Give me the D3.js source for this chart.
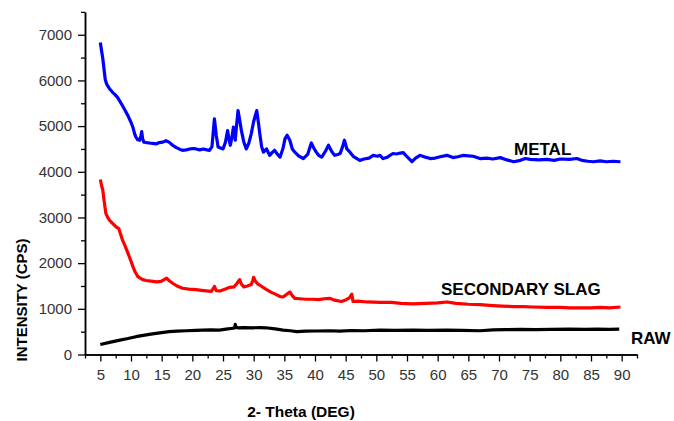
<!DOCTYPE html>
<html>
<head>
<meta charset="utf-8">
<script src="https://cdn.jsdelivr.net/npm/d3@7"></script>
<style>
  body { margin: 0; background: #fff; }
  svg { display: block; font-family: "Liberation Sans", Arial, sans-serif; }
</style>
</head>
<body>
<svg id="chart"></svg>
<script>
// 2-theta (deg), intensity (cps)
const metal = [
  [5.0, 6830], [5.2, 6650], [5.4, 6480], [5.6, 6250], [5.8, 6020], [6.0, 5930], [6.2, 5880],
  [6.6, 5800], [7.0, 5740], [7.4, 5690], [7.8, 5630], [8.2, 5540], [8.6, 5450], [9.0, 5350],
  [9.5, 5230], [10.0, 5080], [10.3, 4980], [10.6, 4830], [10.8, 4760], [11.1, 4700], [11.4, 4690],
  [11.6, 4780], [11.75, 4880], [11.9, 4720], [12.1, 4650], [12.5, 4640], [13.0, 4630], [13.5, 4620],
  [14.1, 4610], [14.6, 4640], [15.2, 4650], [15.7, 4680], [16.2, 4650], [16.8, 4580], [17.4, 4530],
  [18.0, 4490], [18.4, 4470], [19.0, 4480], [19.6, 4500], [20.2, 4510], [20.6, 4500], [21.2, 4480],
  [21.8, 4500], [22.4, 4480], [22.8, 4470], [23.2, 4550], [23.6, 5160], [23.9, 4800], [24.2, 4540],
  [24.6, 4520], [25.0, 4500], [25.4, 4650], [25.75, 4900], [26.0, 4700], [26.2, 4580], [26.45, 4750],
  [26.7, 4980], [27.0, 4690], [27.2, 5000], [27.45, 5340], [27.7, 5150], [28.0, 4900], [28.4, 4650],
  [28.8, 4500], [29.2, 4620], [29.6, 4830], [30.0, 5100], [30.2, 5200], [30.5, 5340], [30.8, 5050],
  [31.0, 4830], [31.3, 4550], [31.6, 4430], [32.1, 4500], [32.6, 4360], [33.0, 4420], [33.4, 4470],
  [33.9, 4380], [34.3, 4320], [34.8, 4520], [35.1, 4720], [35.45, 4800], [35.9, 4690], [36.3, 4500],
  [36.7, 4430], [37.4, 4340], [38.1, 4290], [38.8, 4380], [39.4, 4630], [39.8, 4520], [40.2, 4430],
  [40.6, 4360], [41.1, 4320], [41.7, 4450], [42.2, 4580], [42.7, 4450], [43.2, 4360], [43.7, 4380],
  [44.1, 4400], [44.5, 4550], [44.8, 4690], [45.2, 4500], [45.7, 4430], [46.3, 4330], [47.3, 4250],
  [48.0, 4280], [48.8, 4300], [49.5, 4360], [50.2, 4340], [50.6, 4360], [51.1, 4290], [51.8, 4320],
  [52.7, 4400], [53.3, 4390], [53.9, 4410], [54.4, 4420], [55.0, 4330], [55.8, 4220], [56.4, 4300],
  [57.1, 4360], [58.0, 4320], [58.8, 4290], [59.6, 4300], [60.4, 4330], [61.5, 4360], [62.5, 4310],
  [63.3, 4330], [64.2, 4360], [65.0, 4350], [65.8, 4340], [66.9, 4290], [68.0, 4300], [69.0, 4280],
  [70.2, 4310], [71.3, 4260], [72.4, 4220], [73.5, 4250], [74.3, 4290], [75.1, 4270], [76.5, 4260],
  [77.8, 4270], [79.0, 4250], [80.0, 4280], [81.5, 4270], [82.7, 4290], [83.5, 4250], [84.5, 4230],
  [85.4, 4220], [86.5, 4240], [87.5, 4220], [88.6, 4230], [89.8, 4220]
];

const slag = [
  [5.0, 3830], [5.2, 3700], [5.4, 3600], [5.6, 3380], [5.9, 3090], [6.2, 3000], [6.5, 2940],
  [6.9, 2880], [7.3, 2830], [7.7, 2780], [8.0, 2760], [8.3, 2640], [8.6, 2510], [9.0, 2390],
  [9.5, 2220], [9.9, 2080], [10.3, 1930], [10.7, 1800], [11.1, 1710], [11.5, 1670], [11.9, 1640],
  [12.5, 1620], [13.0, 1610], [13.6, 1600], [14.2, 1590], [14.9, 1600], [15.4, 1640], [15.8, 1670],
  [16.3, 1610], [16.8, 1560], [17.5, 1500], [18.4, 1450], [19.4, 1430], [20.6, 1420], [21.8, 1400],
  [23.1, 1380], [23.4, 1440], [23.6, 1490], [23.9, 1400], [24.5, 1390], [25.3, 1430], [26.1, 1470],
  [26.8, 1480], [27.3, 1560], [27.7, 1640], [28.0, 1540], [28.4, 1480], [29.0, 1500], [29.6, 1530],
  [29.85, 1620], [30.0, 1690], [30.3, 1600], [30.7, 1540], [31.2, 1500], [32.1, 1420], [32.9, 1360],
  [33.7, 1310], [34.3, 1270], [34.8, 1260], [35.4, 1320], [35.9, 1370], [36.3, 1290], [36.7, 1230],
  [37.5, 1220], [38.5, 1210], [39.7, 1210], [40.6, 1200], [41.5, 1220], [42.4, 1230], [43.2, 1190],
  [44.3, 1160], [45.1, 1200], [45.6, 1240], [46.0, 1320], [46.2, 1160], [47.0, 1170], [48.5, 1150],
  [50.6, 1140], [52.5, 1140], [54.0, 1120], [56.0, 1110], [58.0, 1120], [60.0, 1130], [61.5, 1150],
  [63.0, 1120], [65.0, 1100], [66.9, 1090], [69.0, 1070], [70.5, 1060], [72.4, 1050], [74.0, 1050],
  [75.5, 1040], [77.8, 1030], [80.0, 1030], [81.5, 1020], [83.3, 1020], [85.0, 1020], [86.5, 1030],
  [88.0, 1020], [89.8, 1040]
];

const raw = [
  [5.0, 220], [6.5, 265], [8.0, 310], [9.5, 350], [10.8, 390], [12.0, 420], [13.5, 450],
  [15.0, 480], [16.2, 500], [17.5, 510], [19.0, 520], [20.5, 530], [21.7, 535], [23.0, 540],
  [24.4, 535], [25.5, 555], [26.6, 575], [26.9, 580], [27.0, 660], [27.1, 600], [27.4, 585],
  [28.5, 590], [29.9, 585], [31.0, 590], [32.0, 585], [33.5, 560], [34.8, 535], [36.0, 520],
  [37.0, 500], [38.5, 510], [40.0, 515], [42.4, 520], [44.0, 510], [46.0, 525], [48.0, 520],
  [50.6, 535], [53.0, 530], [56.0, 535], [58.5, 530], [61.5, 535], [64.0, 530], [66.9, 520],
  [69.0, 540], [71.0, 545], [73.5, 550], [76.0, 545], [78.5, 550], [81.6, 555], [84.0, 550],
  [86.0, 555], [88.0, 550], [89.6, 555]
];

const seriesNames = ["METAL", "SECONDARY SLAG", "RAW"];
const xMajorTicks = d3.range(5, 91, 5);
const xMinorTicks = d3.range(2.5, 93, 5);
const yMajorTicks = d3.range(0, 7001, 1000);
const yMinorTicks = d3.range(500, 7501, 1000);

const width = 674, height = 421;
const svg = d3.select("#chart").attr("width", width).attr("height", height);

const x = d3.scaleLinear().domain([2.5, 92.5]).range([85, 637]);
const y = d3.scaleLinear().domain([0, 7500]).range([354.5, 11.9]);

const series = [
  { name: seriesNames[0], data: metal, color: "#0000ff", lx: 514, ly: 155 },
  { name: seriesNames[1], data: slag, color: "#ff0000", lx: 441, ly: 295 },
  { name: seriesNames[2], data: raw, color: "#000000", lx: 631, ly: 344 }
];

const line = d3.line().x(d => x(d[0])).y(d => y(d[1]));

svg.append("g")
  .selectAll("path")
  .data(series)
  .join("path")
    .attr("fill", "none")
    .attr("stroke", d => d.color)
    .attr("stroke-width", 3.2)
    .attr("stroke-linejoin", "round")
    .attr("d", d => line(d.data));

// axes
const fmt = d3.format("d");
const xAxisG = svg.append("g").attr("transform", `translate(0, ${y(0)})`);
xAxisG.call(d3.axisBottom(x).tickValues(xMinorTicks).tickSize(4).tickSizeOuter(0).tickFormat(""));
xAxisG.append("g").call(d3.axisBottom(x).tickValues(xMajorTicks).tickSize(7).tickSizeOuter(0).tickPadding(8).tickFormat(fmt));

const yAxisG = svg.append("g").attr("transform", `translate(${x(2.5)}, 0)`);
yAxisG.call(d3.axisLeft(y).tickValues(yMinorTicks).tickSize(4).tickSizeOuter(0).tickFormat(""));
yAxisG.append("g").call(d3.axisLeft(y).tickValues(yMajorTicks).tickSize(7).tickSizeOuter(0).tickPadding(6).tickFormat(fmt));

svg.selectAll(".domain").attr("stroke", "#000").attr("stroke-width", 1.5);
svg.selectAll(".tick line").attr("stroke", "#000").attr("stroke-width", 1.3);
svg.selectAll(".tick text")
  .attr("fill", "#333")
  .style("font-size", "15px")
  .style("font-family", "'Liberation Sans', Arial, sans-serif");

// titles
svg.append("text")
  .attr("x", 301)
  .attr("y", 417)
  .attr("text-anchor", "middle")
  .style("font-size", "15.5px")
  .style("font-weight", "bold")
  .text("2- Theta (DEG)");

svg.append("text")
  .attr("transform", "translate(27, 300) rotate(-90)")
  .attr("text-anchor", "middle")
  .style("font-size", "15px")
  .style("font-weight", "bold")
  .text("INTENSITY (CPS)");

// series labels
svg.append("g")
  .selectAll("text")
  .data(series)
  .join("text")
    .attr("x", d => d.lx)
    .attr("y", d => d.ly)
    .style("font-size", "17px")
    .style("font-weight", "bold")
    .text(d => d.name);
</script>
</body>
</html>
